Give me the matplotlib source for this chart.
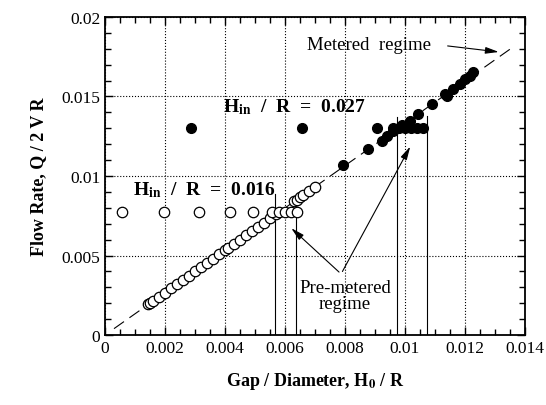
import matplotlib.pyplot as plt
from matplotlib.ticker import MultipleLocator, FormatStrFormatter

plt.rcParams['font.family'] = ['Liberation Serif', 'DejaVu Serif']
plt.rcParams['mathtext.fontset'] = 'stix'

# open circles, H_in / R = 0.016
open_x = [0.00145, 0.0015, 0.0016, 0.0018, 0.0020, 0.0022, 0.0024, 0.0026, 0.0028, 0.0030,
          0.0032, 0.0034, 0.0036, 0.0038, 0.0040, 0.0041, 0.0043, 0.0045, 0.0047, 0.0049,
          0.0051, 0.0053, 0.0055, 0.0057, 0.0063, 0.0064, 0.0065, 0.0066, 0.0068, 0.0070]
open_y = [0.00193, 0.002, 0.00213, 0.0024, 0.00267, 0.00293, 0.0032, 0.00347, 0.00373, 0.0040,
          0.00427, 0.00453, 0.0048, 0.00507, 0.00533, 0.00547, 0.00573, 0.0060, 0.00627, 0.00653,
          0.0068, 0.00707, 0.00733, 0.0076, 0.0084, 0.0085, 0.00867, 0.0088, 0.00907, 0.00933]
open_plateau_x = [0.00056, 0.00198, 0.00313, 0.00417, 0.00494, 0.00556, 0.0058, 0.0060,
                  0.0062, 0.0064]
open_plateau_y = [0.00775, 0.00775, 0.00775, 0.00775, 0.00775, 0.00775, 0.00775, 0.00775,
                  0.00775, 0.00775]

# filled circles, H_in / R = 0.027
filled_x = [0.00794, 0.00877, 0.00922, 0.0094, 0.0096, 0.0099, 0.01017, 0.01043, 0.01089,
            0.01133, 0.0114, 0.0116, 0.01183, 0.0120, 0.01217, 0.01228]
filled_y = [0.0107, 0.0117, 0.0122, 0.01253, 0.01285, 0.0132, 0.01348, 0.0139, 0.01453,
            0.01516, 0.01505, 0.01547, 0.0158, 0.0161, 0.0163, 0.01654]
filled_plateau_x = [0.00287, 0.00657, 0.00906, 0.0096, 0.0098, 0.0100, 0.0102, 0.0104, 0.0106]
filled_plateau_y = [0.0130, 0.0130, 0.0130, 0.0130, 0.0130, 0.0130, 0.0130, 0.0130, 0.0130]

# metered-regime line
line_x = [0.0003, 0.01367]
line_y = [0.0004, 0.0182]

# vertical markers: x position and top
vline_x = [0.00567, 0.00636, 0.00972, 0.01073]
vline_top = [0.00887, 0.0079, 0.0137, 0.0138]

fig = plt.figure(figsize=(5.46, 4.06), dpi=100)
ax = fig.add_axes([0.1923, 0.1724, 0.7692, 0.7833])

ax.plot(line_x, line_y, color='black', lw=0.8, dashes=(11, 6))
for vx, vt in zip(vline_x, vline_top):
    ax.plot([vx, vx], [0, vt], color='black', lw=0.8)

ax.plot(open_x, open_y, 'o', ms=7.5, mfc='white', mec='black', mew=0.9)
ax.plot(open_plateau_x, open_plateau_y, 'o', ms=7.5, mfc='white', mec='black', mew=0.9)
ax.plot(filled_x, filled_y, 'o', ms=7, color='black')
ax.plot(filled_plateau_x, filled_plateau_y, 'o', ms=7, color='black')

ax.set_xlim(0, 0.014)
ax.set_ylim(0, 0.02)
ax.xaxis.set_major_locator(MultipleLocator(0.002))
ax.xaxis.set_minor_locator(MultipleLocator(0.0005))
ax.yaxis.set_major_locator(MultipleLocator(0.005))
ax.yaxis.set_minor_locator(MultipleLocator(0.001))
ax.xaxis.set_major_formatter(FormatStrFormatter('%g'))
ax.yaxis.set_major_formatter(FormatStrFormatter('%g'))
ax.tick_params(which='both', direction='in', top=True, right=True, labelsize=12.5)
ax.tick_params(which='major', length=6, width=1)
ax.tick_params(which='minor', length=4, width=1)
ax.grid(True, which='major', color='black', ls=':', lw=0.8)
for s in ax.spines.values():
    s.set_linewidth(1.3)

ax.set_xlabel(r'Gap / Diameter, H$_\mathbf{0}$ / R', fontsize=13, fontweight='bold', labelpad=10)
ax.set_ylabel('Flow Rate, Q / 2 V R', fontsize=13, fontweight='bold', labelpad=10)

ax.text(0.00393, 0.0144, r'H$_\mathbf{in}$  /  R  =  0.027', fontsize=14, fontweight='bold',
        va='center', ha='left')
ax.text(0.00093, 0.0092, r'H$_\mathbf{in}$  /  R  =  0.016', fontsize=14, fontweight='bold',
        va='center', ha='left')

ax.text(0.0088, 0.0183, 'Metered  regime', fontsize=13.5, ha='center', va='center')
ax.annotate('', xy=(0.01322, 0.01778), xytext=(0.01133, 0.0182),
            arrowprops=dict(arrowstyle='-|>,head_length=0.8,head_width=0.2', color='black', lw=0.8))

ax.text(0.0080, 0.0025, 'Pre-metered\nregime', fontsize=13.5, ha='center', va='center',
        linespacing=0.9)
ax.annotate('', xy=(0.00614, 0.00684), xytext=(0.00787, 0.00384),
            arrowprops=dict(arrowstyle='-|>,head_length=0.8,head_width=0.2', color='black', lw=0.8))
ax.annotate('', xy=(0.01022, 0.01201), xytext=(0.00787, 0.00384),
            arrowprops=dict(arrowstyle='-|>,head_length=0.8,head_width=0.2', color='black', lw=0.8))

fig.savefig('out.png', dpi=100)
